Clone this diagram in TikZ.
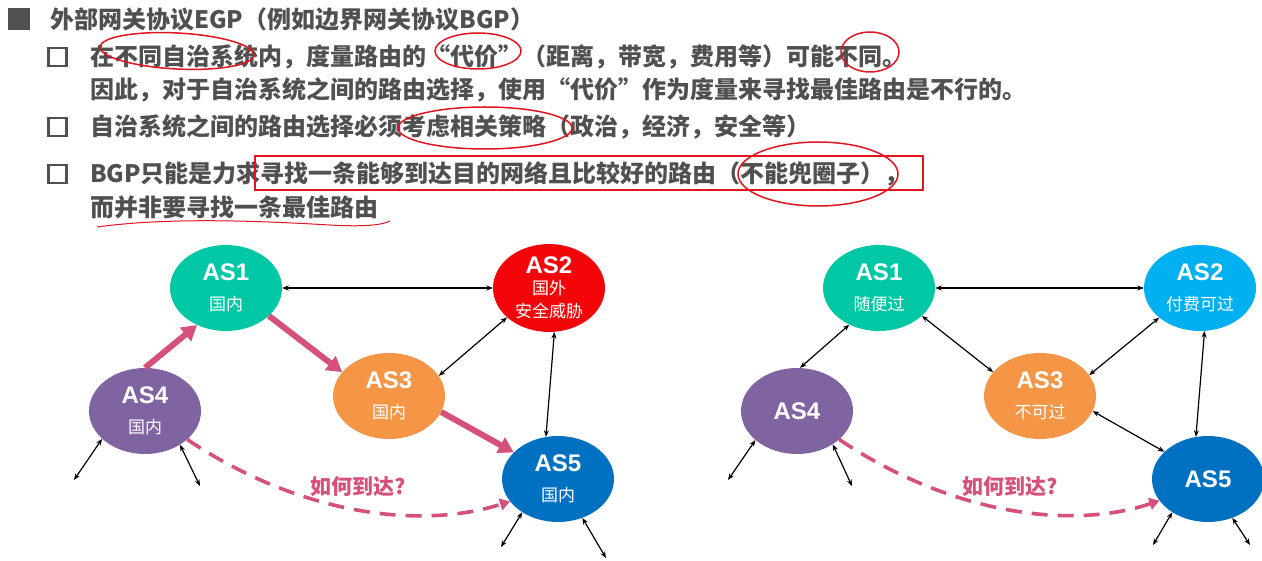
\documentclass[tikz,border=0pt]{standalone}
\usepackage{fontspec}
\setmainfont{Liberation Sans}
\newfontfamily\cjk{Noto Sans CJK SC}
\usetikzlibrary{shapes.geometric,arrows.meta}
\definecolor{textgray}{RGB}{80,80,80}
\definecolor{markred}{RGB}{226,20,32}
\definecolor{asteal}{RGB}{0,200,165}
\definecolor{asred}{RGB}{242,6,10}
\definecolor{asorange}{RGB}{245,150,70}
\definecolor{aspurple}{RGB}{128,100,162}
\definecolor{asblue}{RGB}{0,112,192}
\definecolor{ascyan}{RGB}{0,176,240}
\definecolor{routepink}{RGB}{214,80,124}
\newcommand\asname{\rmfamily\bfseries\fontsize{24bp}{30bp}\selectfont}
\tikzset{
  asnode/.style={ellipse, fill=#1, minimum width=112bp, minimum height=86bp, inner sep=0pt, text=white, align=center, font=\cjk\fontsize{17bp}{30bp}\selectfont},
  peer/.style={{Stealth[length=6.5bp,width=5bp]}-{Stealth[length=6.5bp,width=5bp]}, line width=1.2bp},
  route/.style={-{Triangle[length=15bp,width=17bp]}, line width=6bp, routepink},
  guess/.style={-{Triangle[length=10bp,width=12bp]}, line width=3.6bp, routepink, dash pattern=on 16bp off 10bp},
  guesslabel/.style={font=\cjk\bfseries\fontsize{21bp}{24bp}\selectfont, text=routepink},
  bodytext/.style={anchor=west, inner sep=0pt, text=textgray, font=\cjk\bfseries\fontsize{24bp}{28bp}\selectfont},
  checkbox/.style={draw=textgray, line width=2.6bp, minimum size=18bp, inner sep=0pt},
  markring/.style={draw=markred, line width=1.5bp}
}

\begin{document}
\begin{tikzpicture}[x=1bp, y=-1bp]
  \clip (0,0) rectangle (1262,561);
  \fill[white] (0,0) rectangle (1262,561);

  % text lines
  \node[fill=textgray, minimum size=22bp, inner sep=0pt] (bullet) at (19,19) {};
  \node[bodytext] (title) at (50,19) {外部网关协议EGP（例如边界网关协议BGP）};
  \node[checkbox] (box1) at (57.5,57) {};
  \node[bodytext] (line1) at (90,57) {在不同自治系统内，度量路由的“代价”（距离，带宽，费用等）可能不同。};
  \node[bodytext] (line1b) at (90,90) {因此，对于自治系统之间的路由选择，使用“代价”作为度量来寻找最佳路由是不行的。};
  \node[checkbox] (box2) at (57.5,127) {};
  \node[bodytext] (line2) at (90,127) {自治系统之间的路由选择必须考虑相关策略（政治，经济，安全等）};
  \node[checkbox] (box3) at (57.5,174) {};
  \node[bodytext] (line3) at (90,174) {BGP只能是力求寻找一条能够到达目的网络且比较好的路由（不能兜圈子），};
  \node[bodytext] (line3b) at (90,207) {而并非要寻找一条最佳路由};

  % red marks
  \draw[markring] (177,51) ellipse [x radius=77bp, y radius=18bp, rotate=-3];
  \draw[markring] (478,51) ellipse [x radius=43bp, y radius=18bp];
  \draw[markring] (870,52) ellipse [x radius=29bp, y radius=20bp];
  \draw[markring] (485,128) ellipse [x radius=87bp, y radius=21bp];
  \draw[markred, line width=2bp] (255,156) rectangle (923,190);
  \draw[markring] (818,174) ellipse [x radius=80bp, y radius=32bp];
  \draw[markred, line width=1bp] (97,227) .. controls (170,217) and (260,221) .. (330,225) .. controls (365,227) and (382,225) .. (390,221);

  % left: AS nodes
  \node[asnode=asteal] (a1) at (226,288) {{\asname AS1}\\国内};
  \node[asnode=asred, font=\cjk\fontsize{17bp}{23bp}\selectfont] (a2) at (549,288) {{\asname AS2}\\[-2bp]国外\\安全威胁};
  \node[asnode=asorange] (a3) at (389,396) {{\asname AS3}\\国内};
  \node[asnode=aspurple] (a4) at (145,411) {{\asname AS4}\\国内};
  \node[asnode=asblue] (a5) at (558,479) {{\asname AS5}\\国内};
  \coordinate (a4w) at (74,480);
  \coordinate (a4e) at (200,486);
  \coordinate (a5w) at (501,547);
  \coordinate (a5e) at (606,558);

  \draw[peer] (a1.east) -- (a2.west);
  \draw[peer] (a2.215) -- (a3.22);
  \draw[peer] (a2.277) -- (a5.106);
  \draw[peer] (a4.213) -- (a4w);
  \draw[peer] (a4.-44) -- (a4e);
  \draw[peer] (a5.223) -- (a5w);
  \draw[peer] (a5.-58) -- (a5e);
  \draw[route] (a4.north) -- (a1.232);
  \draw[route] (a1.-33) -- (a3.153);
  \draw[route] (a3.-17) -- (a5.149);
  \draw[guess] (a4.-34) .. controls (300,515) and (420,530) .. (a5.205);
  \node[guesslabel] (ask1) at (358,487) {如何到达?};

  % right: AS nodes
  \node[asnode=asteal] (b1) at (879,288) {{\asname AS1}\\随便过};
  \node[asnode=ascyan] (b2) at (1200,288) {{\asname AS2}\\付费可过};
  \node[asnode=asorange] (b3) at (1040,396) {{\asname AS3}\\不可过};
  \node[asnode=aspurple] (b4) at (797,411) {\asname AS4};
  \node[asnode=asblue] (b5) at (1208,479) {\asname AS5};
  \coordinate (b4w) at (728,480);
  \coordinate (b4e) at (852,486);
  \coordinate (b5w) at (1153,545);
  \coordinate (b5e) at (1250,545);

  \draw[peer] (b1.east) -- (b2.west);
  \draw[peer] (b1.231) -- (b4.86);
  \draw[peer] (b1.-33) -- (b3.153);
  \draw[peer] (b2.216) -- (b3.23);
  \draw[peer] (b2.276) -- (b5.106);
  \draw[peer] (b3.-16) -- (b5.148);
  \draw[peer] (b4.215) -- (b4w);
  \draw[peer] (b4.-43) -- (b4e);
  \draw[peer] (b5.223) -- (b5w);
  \draw[peer] (b5.-58) -- (b5e);
  \draw[guess] (b4.-34) .. controls (952,515) and (1072,530) .. (b5.204);
  \node[guesslabel] (ask2) at (1010,487) {如何到达?};
\end{tikzpicture}
\end{document}
